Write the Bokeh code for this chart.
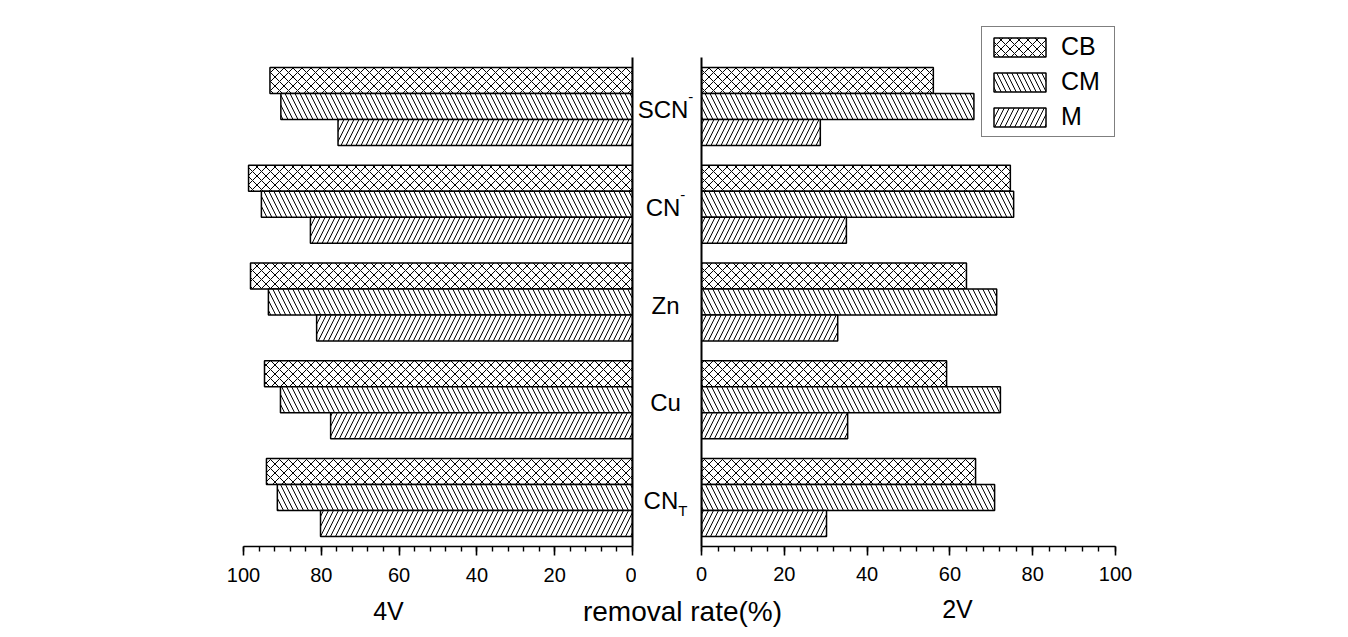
from bokeh.plotting import figure
from bokeh.layouts import row, column
from bokeh.models import Range1d, LinearAxis, SingleIntervalTicker, FixedTicker, ColumnDataSource
from bokeh.transform import dodge
from bokeh.core.properties import value
from bokeh.embed import file_html
from bokeh.resources import INLINE

# ---------------- data (bottom to top) ----------------
categories = ["CN_T", "Cu", "Zn", "CN-", "SCN-"]
label_main = ["CN", "Cu", "Zn", "CN", "SCN"]
label_sup = ["", "", "", "-", "-"]
label_sub = ["T", "", "", "", ""]
series = ["CB", "CM", "M"]
hatches = ["x", "\\", "/"]

rate_4v_CB = [94.1, 94.6, 98.2, 98.7, 93.2]
rate_4v_CM = [91.3, 90.5, 93.6, 95.4, 90.4]
rate_4v_M = [80.2, 77.6, 81.2, 82.8, 75.7]

rate_2v_CB = [66.2, 59.2, 64.0, 74.6, 56.0]
rate_2v_CM = [70.8, 72.2, 71.3, 75.4, 65.8]
rate_2v_M = [30.2, 35.3, 32.9, 35.0, 28.7]

left_title = "4V"
right_title = "2V"
x_title = "removal rate(%)"

FONT = "Liberation Sans"

# ---------------- layout constants ----------------
PX_PER_CAT = 97.8
FRAME_TOP = 26
FRAME_H = 520
BOTTOM_B = 50
Y0 = -0.5
Y1 = 4.5 + 31 / PX_PER_CAT
BAR_H = 26 / PX_PER_CAT
offsets = [BAR_H, 0.0, -BAR_H]

ypos = list(range(len(categories)))
src = ColumnDataSource(dict(
    y=ypos,
    L_CB=rate_4v_CB, L_CM=rate_4v_CM, L_M=rate_4v_M,
    R_CB=rate_2v_CB, R_CM=rate_2v_CM, R_M=rate_2v_M,
))

yr = Range1d(Y0, Y1)


def style_xaxis(ax, standoff):
    ax.ticker = SingleIntervalTicker(interval=20, num_minor_ticks=5)
    ax.bounds = (0, 100)
    ax.axis_line_color = "black"
    ax.axis_line_width = 1.6
    ax.major_tick_line_color = "black"
    ax.major_tick_line_width = 1.6
    ax.major_tick_in = 0
    ax.major_tick_out = 9
    ax.minor_tick_line_color = "black"
    ax.minor_tick_line_width = 1.4
    ax.minor_tick_in = 0
    ax.minor_tick_out = 5
    ax.major_label_text_font = FONT
    ax.major_label_text_font_size = "20px"
    ax.major_label_text_color = "black"
    ax.major_label_standoff = standoff


def line_only_axis(ax):
    ax.ticker = FixedTicker(ticks=[])
    ax.bounds = (-0.5, 4.5)
    ax.axis_line_color = "black"
    ax.axis_line_width = 2
    ax.major_tick_in = 0
    ax.major_tick_out = 0
    ax.minor_tick_in = 0
    ax.minor_tick_out = 0
    ax.major_label_text_font_size = "0px"
    ax.major_label_standoff = 0


def bars(p, prefix, with_legend):
    for s, h, off in zip(series, hatches, offsets):
        kw = dict(legend_label=s) if with_legend else {}
        p.hbar(y=dodge("y", off), left=0, right=prefix + s, height=BAR_H,
               source=src, fill_color="white", line_color="black", line_width=1.5,
               hatch_pattern=h, hatch_color="black", hatch_weight=1.0,
               hatch_scale=9 if h == "x" else 10, **kw)


# ---------------- left panel (4V) ----------------
figL = figure(frame_width=389, frame_height=FRAME_H,
              min_border_left=243, min_border_right=4,
              min_border_top=FRAME_TOP, min_border_bottom=BOTTOM_B,
              x_range=Range1d(100, 0), y_range=yr, y_axis_location=None,
              output_backend="svg", toolbar_location=None,
              outline_line_color=None, background_fill_color="white")
bars(figL, "L_", False)
style_xaxis(figL.xaxis[0], 12)
ra = LinearAxis()
line_only_axis(ra)
figL.add_layout(ra, "right")
figL.xgrid.visible = False
figL.ygrid.visible = False

# ---------------- middle labels ----------------
MID_LEFT = 636
W_MID = 59
CENTER_X = 665 - MID_LEFT  # label centre inside middle strip

aw = {"S": 0.667, "C": 0.722, "N": 0.722, "Z": 0.611, "n": 0.556, "u": 0.556,
      "T": 0.611, "-": 0.333}
MAIN_FS, SMALL_FS = 24, 15


def tw(s, fs):
    return sum(aw.get(c, 0.556) for c in s) * fs


main_off, sup_off, sub_off = [], [], []
for m, sp, sb in zip(label_main, label_sup, label_sub):
    wm = tw(m, MAIN_FS)
    wx = max(tw(sp, SMALL_FS), tw(sb, SMALL_FS))
    total = wm + wx
    main_off.append(-total / 2)
    sup_off.append(-total / 2 + wm)
    sub_off.append(-total / 2 + wm)

lsrc = ColumnDataSource(dict(y=ypos, main=label_main, sup=label_sup, sub=label_sub,
                             mo=main_off, so=sup_off, bo=sub_off))

figM = figure(frame_width=W_MID, frame_height=FRAME_H,
              min_border_left=0, min_border_right=0,
              min_border_top=FRAME_TOP, min_border_bottom=BOTTOM_B,
              x_range=Range1d(0, W_MID), y_range=yr,
              x_axis_location=None, y_axis_location=None,
              output_backend="svg", toolbar_location=None,
              outline_line_color=None)
figM.grid.visible = False
MAIN_DY = 3
figM.text(x=CENTER_X, y="y", text="main", x_offset="mo", y_offset=MAIN_DY, source=lsrc,
          text_align="left", text_baseline="alphabetic", text_font=value(FONT),
          text_font_size=f"{MAIN_FS}px", text_color="black")
figM.text(x=CENTER_X, y="y", text="sup", x_offset="so", y_offset=MAIN_DY - 12, source=lsrc,
          text_align="left", text_baseline="alphabetic", text_font=value(FONT),
          text_font_size=f"{SMALL_FS}px", text_color="black")
figM.text(x=CENTER_X, y="y", text="sub", x_offset="bo", y_offset=MAIN_DY + 10, source=lsrc,
          text_align="left", text_baseline="alphabetic", text_font=value(FONT),
          text_font_size=f"{SMALL_FS}px", text_color="black")

# ---------------- right panel (2V) ----------------
figR = figure(frame_width=414, frame_height=FRAME_H,
              min_border_left=6, min_border_right=233,
              min_border_top=FRAME_TOP, min_border_bottom=BOTTOM_B,
              x_range=Range1d(0, 100), y_range=yr,
              output_backend="svg", toolbar_location=None,
              outline_line_color=None)
bars(figR, "R_", True)
style_xaxis(figR.xaxis[0], 11)
line_only_axis(figR.yaxis[0])
figR.xgrid.visible = False
figR.ygrid.visible = False

lg = figR.legend[0]
lg.location = "top_right"
lg.margin = 0
lg.padding = 5
lg.spacing = 6
lg.glyph_width = 65
lg.glyph_height = 24
lg.label_height = 24
lg.label_width = 48
lg.label_standoff = 9
lg.label_text_font = FONT
lg.label_text_font_size = "25px"
lg.label_text_color = "black"
lg.border_line_color = "black"
lg.border_line_width = 1
lg.background_fill_color = "white"
lg.background_fill_alpha = 1

# ---------------- bottom titles strip ----------------
B_H = 31
figB = figure(width=1348, height=B_H, min_border=0,
              x_range=Range1d(0, 1348), y_range=Range1d(0, B_H),
              x_axis_location=None, y_axis_location=None,
              output_backend="svg", toolbar_location=None,
              outline_line_color=None)
figB.grid.visible = False
figB.text(x=[388, 682, 957], y=[17, 16, 19], text=[left_title, x_title, right_title],
          text_font_size=["25px", "28px", "25px"],
          text_align="center", text_baseline="alphabetic",
          text_font=value(FONT), text_color="black")

layout = column(row(figL, figM, figR, spacing=0), figB, spacing=0)

open("out.html", "w").write(file_html(layout, INLINE))
